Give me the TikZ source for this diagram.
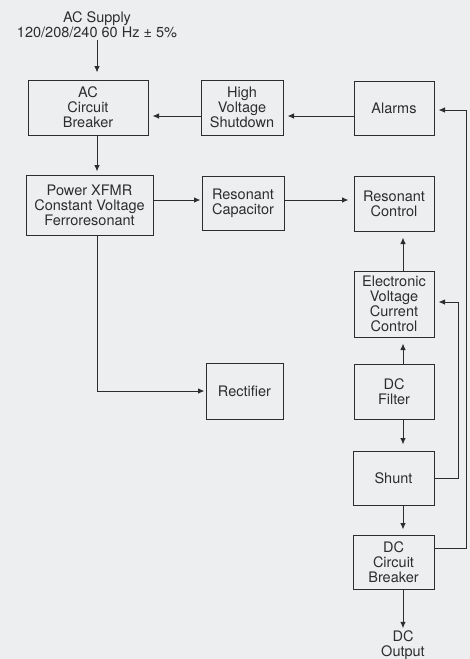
\documentclass[tikz,border=0pt]{standalone}
\usepackage{fontspec}
\setmainfont{TeX Gyre Heros}
\usetikzlibrary{arrows.meta,calc}
\definecolor{bg}{RGB}{236,238,240}
\definecolor{ln}{RGB}{45,45,45}
\begin{document}
\begin{tikzpicture}[x=1pt,y=-1pt,
  txt/.style={text=ln,align=center,font=\fontsize{14.5}{15}\selectfont},
  box/.style={txt,draw=ln,line width=1pt,inner sep=1pt},
  lbl/.style={txt,inner sep=0pt},
  arr/.style={draw=ln,line width=1pt,-{Latex[length=6.5pt,width=5.5pt]},shorten >=4pt},
  wire/.style={draw=ln,line width=1pt}]
\fill[bg] (0,0) rectangle (470,659);
\useasboundingbox (0,0) rectangle (470,659);

% labels
\node[lbl] (supply) at (97,24.5) {AC Supply\\120/208/240 60 Hz ± 5\%};
\node[lbl] (dcout) at (403,645) {DC\\Output};

% boxes
\node[box,minimum width=120pt,minimum height=55pt] (accb) at (88,107.5) {AC\\Circuit\\Breaker};
\node[box,minimum width=82pt,minimum height=55pt] (hvs) at (242,107.5) {High\\Voltage\\Shutdown};
\node[box,minimum width=80pt,minimum height=54pt] (alarms) at (394,108) {Alarms};
\node[box,minimum width=127pt,minimum height=60pt] (power) at (89.5,205) {Power XFMR\\Constant Voltage\\Ferroresonant};
\node[box,minimum width=82pt,minimum height=54pt] (rescap) at (243,203) {Resonant\\Capacitor};
\node[box,minimum width=80pt,minimum height=55pt] (resctl) at (394,203.5) {Resonant\\Control};
\node[box,minimum width=77pt,minimum height=56pt] (rect) at (244.5,391) {Rectifier};
\node[box,minimum width=80pt,minimum height=66pt] (evcc) at (394,304) {Electronic\\Voltage\\Current\\Control};
\node[box,minimum width=80pt,minimum height=55pt] (dcf) at (394,391.5) {DC\\Filter};
\node[box,minimum width=81pt,minimum height=54pt] (shunt) at (393.5,478) {Shunt};
\node[box,minimum width=81pt,minimum height=54pt] (dccb) at (393.5,562) {DC\\Circuit\\Breaker};

% row coordinates
\coordinate (r1) at (0,116);
\coordinate (r2) at (0,200);
\coordinate (fo1) at (466,548);
\coordinate (fo2) at (466,110);
\coordinate (fi1) at (458,478);
\coordinate (fi2) at (458,302);

% connectors
\draw[arr,shorten <=2pt,shorten >=7pt] (supply.south) -- (supply |- accb.north);
\draw[arr,shorten >=3pt] (accb.south -| supply) -- (power.north -| supply);
\draw[arr] (hvs.west |- r1) -- (accb.east |- r1);
\draw[arr] (alarms.west |- r1) -- (hvs.east |- r1);
\draw[arr,shorten >=1pt] (power.east |- r2) -- (rescap.west |- r2);
\draw[arr,shorten >=5pt] (rescap.east |- r2) -- (resctl.west |- r2);
\draw[arr,shorten >=1pt] (power.south -| supply) |- (rect.west);
\draw[arr,shorten >=6pt] (evcc.north -| dcout) -- (resctl.south -| dcout);
\draw[arr,shorten >=6pt] (dcf.north -| dcout) -- (evcc.south -| dcout);
\draw[arr,shorten >=6pt] (dcf.south -| dcout) -- (shunt.north -| dcout);
\draw[arr,shorten >=5pt] (shunt.south -| dcout) -- (dccb.north -| dcout);
\draw[arr,shorten >=2pt] (dccb.south -| dcout) -- (dcout.north);
\draw[arr] (dccb.east |- fo1) -- (fo1) -- (fo2) -- (alarms.east |- fo2);
\draw[arr] (shunt.east |- fi1) -- (fi1) -- (fi2) -- (evcc.east |- fi2);
\end{tikzpicture}
\end{document}
